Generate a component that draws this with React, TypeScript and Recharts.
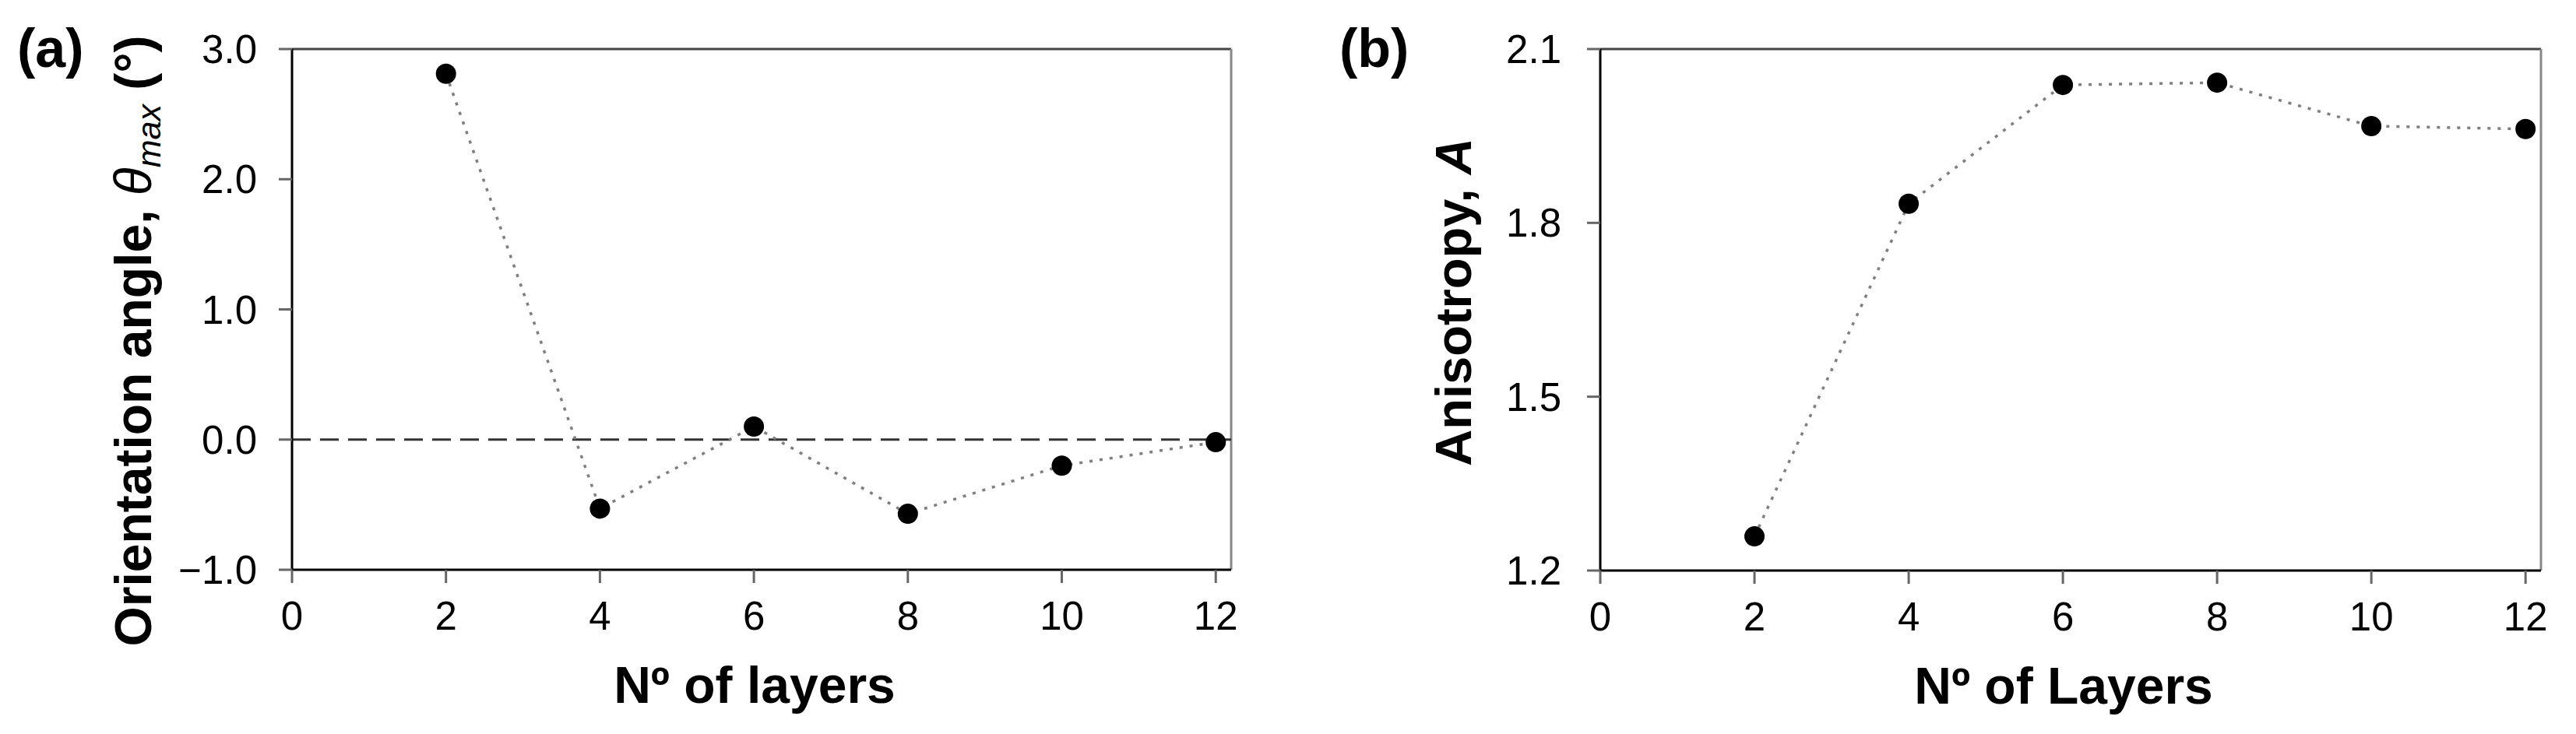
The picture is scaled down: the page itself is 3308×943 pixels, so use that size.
import { Label, Line, LineChart, ReferenceLine, XAxis, YAxis } from "recharts";

const layers = [2, 4, 6, 8, 10, 12];
const orientationAngle = [2.81, -0.53, 0.1, -0.57, -0.2, -0.02];
const anisotropy = [1.259, 1.833, 2.038, 2.042, 1.967, 1.962];

const layerTicks = [0, 2, 4, 6, 8, 10, 12];
const angleTicks = [-1, 0, 1, 2, 3];
const anisotropyTicks = [1.2, 1.5, 1.8, 2.1];

const FONT = "'Liberation Sans', Arial, Helvetica, sans-serif";

const angleData = layers.map((layer, i) => ({ layer, value: orientationAngle[i] }));
const anisotropyData = layers.map((layer, i) => ({ layer, value: anisotropy[i] }));

const tickStyle = { fill: "#000", fontSize: 51, fontFamily: FONT };
const axisLine = { stroke: "#000", strokeWidth: 3 };
const tickLine = { stroke: "#666", strokeWidth: 3 };

const formatTick = (v: number) => (v < 0 ? `\u2212${Math.abs(v).toFixed(1)}` : v.toFixed(1));

const xTitle = (text: string, dx: number) => (props: any) => {
  const { x, y, width } = props.viewBox;
  return (
    <text
      x={x + width / 2 + dx}
      y={y + 171}
      textAnchor="middle"
      fontFamily={FONT}
      fontWeight="bold"
      fontSize={66}
      fill="#000"
    >
      {text}
    </text>
  );
};

const angleYTitle = (props: any) => {
  const { x } = props.viewBox;
  const cx = x + 194;
  const cy = 438;
  return (
    <g>
      <text x={x + 22} y={86} fontFamily={FONT} fontWeight="bold" fontSize={70} fill="#000">
        (a)
      </text>
      <text
        x={cx}
        y={cy}
        transform={`rotate(-90 ${cx} ${cy})`}
        textAnchor="middle"
        fontFamily={FONT}
        fontWeight="bold"
        fontSize={66}
        fill="#000"
      >
        Orientation angle,{" "}
        <tspan fontStyle="italic" fontWeight="normal">θ</tspan>
        <tspan fontStyle="italic" fontWeight="normal" fontSize={43} dy={12}>max</tspan>
        <tspan dy={-12}> (°)</tspan>
      </text>
    </g>
  );
};

const anisotropyYTitle = (props: any) => {
  const { x } = props.viewBox;
  const cx = x + 235;
  const cy = 388;
  return (
    <g>
      <text x={x + 66} y={86} fontFamily={FONT} fontWeight="bold" fontSize={70} fill="#000">
        (b)
      </text>
      <text
        x={cx}
        y={cy}
        transform={`rotate(-90 ${cx} ${cy})`}
        textAnchor="middle"
        fontFamily={FONT}
        fontWeight="bold"
        fontSize={65}
        fill="#000"
      >
        Anisotropy, <tspan fontStyle="italic">A</tspan>
      </text>
    </g>
  );
};

const seriesProps = {
  type: "linear" as const,
  dataKey: "value",
  stroke: "#7f7f7f",
  strokeWidth: 3.5,
  strokeDasharray: "4 9",
  dot: { r: 13, fill: "#000", stroke: "none" },
  activeDot: false,
  isAnimationActive: false,
};

export default function App() {
  return (
    <div
      style={{
        position: "absolute",
        left: 0,
        top: 0,
        width: 3308,
        height: 943,
        background: "#fff",
      }}
    >
      <div style={{ position: "absolute", left: 0, top: 0 }}>
        <LineChart
          width={1654}
          height={943}
          data={angleData}
          margin={{ top: 63, right: 73, bottom: 0, left: 0 }}
        >
          <XAxis
            dataKey="layer"
            type="number"
            domain={[0, 12.2]}
            ticks={layerTicks}
            interval={0}
            height={211}
            tickSize={17}
            tickMargin={24}
            axisLine={axisLine}
            tickLine={tickLine}
            tick={tickStyle}
          >
            <Label content={xTitle("Nº of layers", -9)} />
          </XAxis>
          <YAxis
            type="number"
            domain={[-1, 3]}
            ticks={angleTicks}
            interval={0}
            width={375}
            tickSize={17}
            tickMargin={28}
            axisLine={axisLine}
            tickLine={tickLine}
            tick={tickStyle}
            tickFormatter={formatTick}
          >
            <Label content={angleYTitle} />
          </YAxis>
          <ReferenceLine y={3} stroke="#444" strokeWidth={3} />
          <ReferenceLine x={12.2} stroke="#888" strokeWidth={3} />
          <ReferenceLine y={0} stroke="#333" strokeWidth={3} strokeDasharray="24 12" />
          <Line {...seriesProps} />
        </LineChart>
      </div>

      <div style={{ position: "absolute", left: 1654, top: 0 }}>
        <LineChart
          width={1654}
          height={943}
          data={anisotropyData}
          margin={{ top: 63, right: 45, bottom: 0, left: 0 }}
        >
          <XAxis
            dataKey="layer"
            type="number"
            domain={[0, 12.2]}
            ticks={layerTicks}
            interval={0}
            height={210}
            tickSize={17}
            tickMargin={24}
            axisLine={axisLine}
            tickLine={tickLine}
            tick={tickStyle}
          >
            <Label content={xTitle("Nº of Layers", -9)} />
          </XAxis>
          <YAxis
            type="number"
            domain={[1.2, 2.1]}
            ticks={anisotropyTicks}
            interval={0}
            width={401}
            tickSize={17}
            tickMargin={33}
            axisLine={axisLine}
            tickLine={tickLine}
            tick={tickStyle}
            tickFormatter={formatTick}
          >
            <Label content={anisotropyYTitle} />
          </YAxis>
          <ReferenceLine y={2.1} stroke="#444" strokeWidth={3} />
          <ReferenceLine x={12.2} stroke="#888" strokeWidth={3} />
          <Line {...seriesProps} />
        </LineChart>
      </div>
    </div>
  );
}
